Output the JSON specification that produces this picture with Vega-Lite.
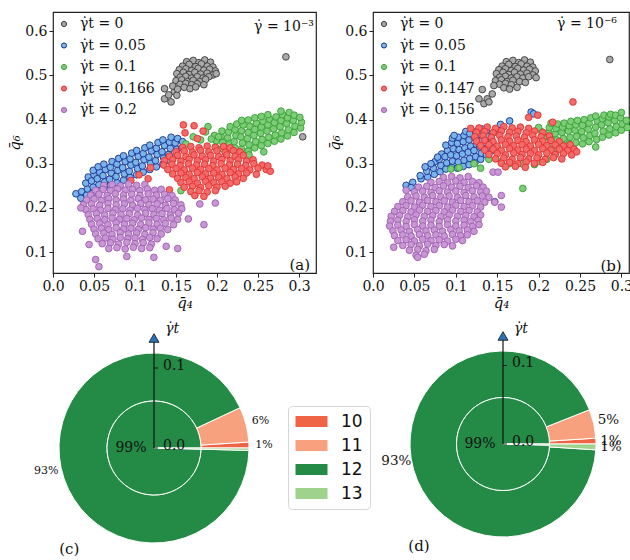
{
"$schema":"https://vega.github.io/schema/vega-lite/v6.json",
"background":"white",
"padding":{"left":7,"top":11,"right":0,"bottom":0},
"config":{"view":{"stroke":"#222","strokeWidth":1.2},"axis":{"labelFont":"DejaVu Serif","labelFontSize":14,"labelColor":"#111","tickColor":"#222","tickSize":4,"tickWidth":1,"domain":false,"grid":false,"titleFont":"DejaVu Serif","titleFontSize":15,"titleFontWeight":"normal","titleFontStyle":"italic","titleColor":"#111","labelPadding":2,"labelFlush":false,"labelOverlap":false},"text":{"font":"DejaVu Serif","color":"#111"}},
"datasets":{
"a":[
{"g":0,"x":0.163,"y":0.531},{"g":0,"x":0.171,"y":0.534},{"g":0,"x":0.178,"y":0.529},{"g":0,"x":0.185,"y":0.535},{"g":0,"x":0.192,"y":0.53},
{"g":0,"x":0.158,"y":0.521},{"g":0,"x":0.166,"y":0.525},{"g":0,"x":0.174,"y":0.52},{"g":0,"x":0.181,"y":0.526},{"g":0,"x":0.188,"y":0.521},{"g":0,"x":0.195,"y":0.519},
{"g":0,"x":0.154,"y":0.513},{"g":0,"x":0.162,"y":0.515},{"g":0,"x":0.169,"y":0.511},{"g":0,"x":0.177,"y":0.516},{"g":0,"x":0.184,"y":0.512},{"g":0,"x":0.191,"y":0.514},{"g":0,"x":0.198,"y":0.51},
{"g":0,"x":0.151,"y":0.504},{"g":0,"x":0.159,"y":0.507},{"g":0,"x":0.166,"y":0.502},{"g":0,"x":0.173,"y":0.507},{"g":0,"x":0.18,"y":0.503},{"g":0,"x":0.188,"y":0.505},{"g":0,"x":0.195,"y":0.501},
{"g":0,"x":0.155,"y":0.496},{"g":0,"x":0.162,"y":0.498},{"g":0,"x":0.169,"y":0.494},{"g":0,"x":0.176,"y":0.497},{"g":0,"x":0.183,"y":0.494},{"g":0,"x":0.19,"y":0.497},{"g":0,"x":0.199,"y":0.504},
{"g":0,"x":0.15,"y":0.488},{"g":0,"x":0.157,"y":0.49},{"g":0,"x":0.164,"y":0.486},{"g":0,"x":0.171,"y":0.489},{"g":0,"x":0.179,"y":0.486},{"g":0,"x":0.186,"y":0.491},
{"g":0,"x":0.155,"y":0.48},{"g":0,"x":0.162,"y":0.482},{"g":0,"x":0.169,"y":0.479},{"g":0,"x":0.176,"y":0.481},{"g":0,"x":0.184,"y":0.479},
{"g":0,"x":0.16,"y":0.473},{"g":0,"x":0.167,"y":0.47},{"g":0,"x":0.174,"y":0.474},
{"g":0,"x":0.136,"y":0.447},{"g":0,"x":0.144,"y":0.44},{"g":0,"x":0.148,"y":0.463},{"g":0,"x":0.136,"y":0.47},{"g":0,"x":0.151,"y":0.455},{"g":0,"x":0.141,"y":0.456},{"g":0,"x":0.146,"y":0.476},{"g":0,"x":0.152,"y":0.469},
{"g":0,"x":0.284,"y":0.542},{"g":0,"x":0.3045,"y":0.361},
{"g":1,"x":0.028,"y":0.232},{"g":1,"x":0.034,"y":0.222},{"g":1,"x":0.035,"y":0.237},
{"g":1,"x":0.041,"y":0.229},{"g":1,"x":0.042,"y":0.243},{"g":1,"x":0.04,"y":0.256},{"g":1,"x":0.043,"y":0.27},
{"g":1,"x":0.048,"y":0.233},{"g":1,"x":0.049,"y":0.247},{"g":1,"x":0.047,"y":0.261},{"g":1,"x":0.05,"y":0.275},{"g":1,"x":0.049,"y":0.285},
{"g":1,"x":0.055,"y":0.239},{"g":1,"x":0.056,"y":0.253},{"g":1,"x":0.054,"y":0.266},{"g":1,"x":0.057,"y":0.281},{"g":1,"x":0.055,"y":0.293},
{"g":1,"x":0.062,"y":0.246},{"g":1,"x":0.063,"y":0.259},{"g":1,"x":0.061,"y":0.273},{"g":1,"x":0.064,"y":0.287},{"g":1,"x":0.062,"y":0.299},
{"g":1,"x":0.07,"y":0.251},{"g":1,"x":0.069,"y":0.265},{"g":1,"x":0.071,"y":0.279},{"g":1,"x":0.07,"y":0.292},{"g":1,"x":0.072,"y":0.305},
{"g":1,"x":0.078,"y":0.257},{"g":1,"x":0.077,"y":0.271},{"g":1,"x":0.079,"y":0.285},{"g":1,"x":0.078,"y":0.299},{"g":1,"x":0.08,"y":0.312},
{"g":1,"x":0.086,"y":0.263},{"g":1,"x":0.087,"y":0.277},{"g":1,"x":0.085,"y":0.291},{"g":1,"x":0.088,"y":0.305},{"g":1,"x":0.086,"y":0.318},
{"g":1,"x":0.094,"y":0.269},{"g":1,"x":0.093,"y":0.283},{"g":1,"x":0.095,"y":0.297},{"g":1,"x":0.094,"y":0.311},{"g":1,"x":0.096,"y":0.324},
{"g":1,"x":0.102,"y":0.275},{"g":1,"x":0.103,"y":0.289},{"g":1,"x":0.101,"y":0.303},{"g":1,"x":0.104,"y":0.317},{"g":1,"x":0.102,"y":0.33},
{"g":1,"x":0.11,"y":0.281},{"g":1,"x":0.109,"y":0.295},{"g":1,"x":0.111,"y":0.309},{"g":1,"x":0.11,"y":0.323},{"g":1,"x":0.112,"y":0.336},
{"g":1,"x":0.118,"y":0.287},{"g":1,"x":0.119,"y":0.301},{"g":1,"x":0.117,"y":0.315},{"g":1,"x":0.12,"y":0.329},{"g":1,"x":0.118,"y":0.342},
{"g":1,"x":0.126,"y":0.293},{"g":1,"x":0.125,"y":0.307},{"g":1,"x":0.127,"y":0.321},{"g":1,"x":0.126,"y":0.335},{"g":1,"x":0.128,"y":0.348},
{"g":1,"x":0.134,"y":0.299},{"g":1,"x":0.135,"y":0.313},{"g":1,"x":0.133,"y":0.327},{"g":1,"x":0.136,"y":0.341},{"g":1,"x":0.134,"y":0.354},
{"g":1,"x":0.142,"y":0.307},{"g":1,"x":0.141,"y":0.321},{"g":1,"x":0.143,"y":0.335},{"g":1,"x":0.142,"y":0.349},{"g":1,"x":0.144,"y":0.36},
{"g":1,"x":0.15,"y":0.319},{"g":1,"x":0.151,"y":0.333},{"g":1,"x":0.149,"y":0.347},{"g":1,"x":0.152,"y":0.357},
{"g":1,"x":0.157,"y":0.336},{"g":1,"x":0.158,"y":0.35},
{"g":2,"x":0.198,"y":0.338},{"g":2,"x":0.199,"y":0.352},{"g":2,"x":0.197,"y":0.364},
{"g":2,"x":0.206,"y":0.334},{"g":2,"x":0.207,"y":0.348},{"g":2,"x":0.205,"y":0.362},{"g":2,"x":0.206,"y":0.374},
{"g":2,"x":0.214,"y":0.331},{"g":2,"x":0.215,"y":0.345},{"g":2,"x":0.213,"y":0.359},{"g":2,"x":0.214,"y":0.372},{"g":2,"x":0.216,"y":0.384},
{"g":2,"x":0.222,"y":0.336},{"g":2,"x":0.221,"y":0.35},{"g":2,"x":0.223,"y":0.364},{"g":2,"x":0.222,"y":0.377},{"g":2,"x":0.224,"y":0.39},
{"g":2,"x":0.23,"y":0.333},{"g":2,"x":0.231,"y":0.347},{"g":2,"x":0.229,"y":0.361},{"g":2,"x":0.23,"y":0.375},{"g":2,"x":0.232,"y":0.388},{"g":2,"x":0.23,"y":0.398},
{"g":2,"x":0.238,"y":0.329},{"g":2,"x":0.239,"y":0.343},{"g":2,"x":0.237,"y":0.357},{"g":2,"x":0.238,"y":0.371},{"g":2,"x":0.24,"y":0.385},{"g":2,"x":0.238,"y":0.399},
{"g":2,"x":0.246,"y":0.336},{"g":2,"x":0.247,"y":0.35},{"g":2,"x":0.245,"y":0.364},{"g":2,"x":0.246,"y":0.378},{"g":2,"x":0.248,"y":0.392},{"g":2,"x":0.246,"y":0.404},
{"g":2,"x":0.254,"y":0.341},{"g":2,"x":0.255,"y":0.355},{"g":2,"x":0.253,"y":0.369},{"g":2,"x":0.254,"y":0.383},{"g":2,"x":0.256,"y":0.396},{"g":2,"x":0.254,"y":0.407},
{"g":2,"x":0.262,"y":0.346},{"g":2,"x":0.263,"y":0.36},{"g":2,"x":0.261,"y":0.374},{"g":2,"x":0.262,"y":0.388},{"g":2,"x":0.264,"y":0.401},{"g":2,"x":0.262,"y":0.411},
{"g":2,"x":0.27,"y":0.351},{"g":2,"x":0.271,"y":0.365},{"g":2,"x":0.269,"y":0.379},{"g":2,"x":0.27,"y":0.393},{"g":2,"x":0.272,"y":0.406},
{"g":2,"x":0.278,"y":0.356},{"g":2,"x":0.279,"y":0.37},{"g":2,"x":0.277,"y":0.384},{"g":2,"x":0.278,"y":0.398},{"g":2,"x":0.28,"y":0.411},{"g":2,"x":0.278,"y":0.419},
{"g":2,"x":0.286,"y":0.363},{"g":2,"x":0.287,"y":0.377},{"g":2,"x":0.285,"y":0.391},{"g":2,"x":0.286,"y":0.404},{"g":2,"x":0.288,"y":0.416},
{"g":2,"x":0.294,"y":0.371},{"g":2,"x":0.295,"y":0.385},{"g":2,"x":0.293,"y":0.398},{"g":2,"x":0.294,"y":0.41},
{"g":2,"x":0.302,"y":0.381},{"g":2,"x":0.303,"y":0.394},{"g":2,"x":0.301,"y":0.405},
{"g":2,"x":0.189,"y":0.384},{"g":2,"x":0.171,"y":0.361},{"g":2,"x":0.18,"y":0.354},{"g":2,"x":0.193,"y":0.356},{"g":2,"x":0.202,"y":0.361},{"g":2,"x":0.156,"y":0.239},{"g":2,"x":0.239,"y":0.32},{"g":2,"x":0.257,"y":0.327},{"g":2,"x":0.162,"y":0.345},{"g":2,"x":0.186,"y":0.372},
{"g":3,"x":0.158,"y":0.337},{"g":3,"x":0.168,"y":0.339},{"g":3,"x":0.178,"y":0.336},{"g":3,"x":0.188,"y":0.34},{"g":3,"x":0.198,"y":0.337},{"g":3,"x":0.208,"y":0.339},{"g":3,"x":0.216,"y":0.336},
{"g":3,"x":0.15,"y":0.327},{"g":3,"x":0.16,"y":0.329},{"g":3,"x":0.17,"y":0.326},{"g":3,"x":0.18,"y":0.33},{"g":3,"x":0.19,"y":0.327},{"g":3,"x":0.2,"y":0.329},{"g":3,"x":0.21,"y":0.326},{"g":3,"x":0.22,"y":0.33},{"g":3,"x":0.228,"y":0.327},
{"g":3,"x":0.142,"y":0.317},{"g":3,"x":0.152,"y":0.319},{"g":3,"x":0.162,"y":0.316},{"g":3,"x":0.172,"y":0.32},{"g":3,"x":0.182,"y":0.317},{"g":3,"x":0.192,"y":0.319},{"g":3,"x":0.202,"y":0.316},{"g":3,"x":0.212,"y":0.32},{"g":3,"x":0.222,"y":0.317},{"g":3,"x":0.232,"y":0.319},
{"g":3,"x":0.136,"y":0.307},{"g":3,"x":0.146,"y":0.309},{"g":3,"x":0.156,"y":0.306},{"g":3,"x":0.166,"y":0.31},{"g":3,"x":0.176,"y":0.307},{"g":3,"x":0.186,"y":0.309},{"g":3,"x":0.196,"y":0.306},{"g":3,"x":0.206,"y":0.31},{"g":3,"x":0.216,"y":0.307},{"g":3,"x":0.226,"y":0.309},{"g":3,"x":0.236,"y":0.306},{"g":3,"x":0.244,"y":0.309},
{"g":3,"x":0.135,"y":0.297},{"g":3,"x":0.145,"y":0.299},{"g":3,"x":0.155,"y":0.296},{"g":3,"x":0.165,"y":0.3},{"g":3,"x":0.175,"y":0.297},{"g":3,"x":0.185,"y":0.299},{"g":3,"x":0.195,"y":0.296},{"g":3,"x":0.205,"y":0.3},{"g":3,"x":0.215,"y":0.297},{"g":3,"x":0.225,"y":0.299},{"g":3,"x":0.235,"y":0.296},{"g":3,"x":0.245,"y":0.3},{"g":3,"x":0.255,"y":0.297},
{"g":3,"x":0.14,"y":0.287},{"g":3,"x":0.15,"y":0.289},{"g":3,"x":0.16,"y":0.286},{"g":3,"x":0.17,"y":0.29},{"g":3,"x":0.18,"y":0.287},{"g":3,"x":0.19,"y":0.289},{"g":3,"x":0.2,"y":0.286},{"g":3,"x":0.21,"y":0.29},{"g":3,"x":0.22,"y":0.287},{"g":3,"x":0.23,"y":0.289},{"g":3,"x":0.24,"y":0.286},{"g":3,"x":0.25,"y":0.29},{"g":3,"x":0.26,"y":0.287},
{"g":3,"x":0.146,"y":0.277},{"g":3,"x":0.156,"y":0.279},{"g":3,"x":0.166,"y":0.276},{"g":3,"x":0.176,"y":0.28},{"g":3,"x":0.186,"y":0.277},{"g":3,"x":0.196,"y":0.279},{"g":3,"x":0.206,"y":0.276},{"g":3,"x":0.216,"y":0.28},{"g":3,"x":0.226,"y":0.277},{"g":3,"x":0.236,"y":0.279},{"g":3,"x":0.248,"y":0.276},
{"g":3,"x":0.152,"y":0.267},{"g":3,"x":0.162,"y":0.269},{"g":3,"x":0.172,"y":0.266},{"g":3,"x":0.182,"y":0.27},{"g":3,"x":0.192,"y":0.267},{"g":3,"x":0.202,"y":0.269},{"g":3,"x":0.212,"y":0.266},{"g":3,"x":0.222,"y":0.27},{"g":3,"x":0.232,"y":0.267},
{"g":3,"x":0.156,"y":0.257},{"g":3,"x":0.166,"y":0.259},{"g":3,"x":0.176,"y":0.256},{"g":3,"x":0.186,"y":0.26},{"g":3,"x":0.196,"y":0.257},{"g":3,"x":0.206,"y":0.259},{"g":3,"x":0.216,"y":0.256},{"g":3,"x":0.224,"y":0.259},
{"g":3,"x":0.16,"y":0.247},{"g":3,"x":0.17,"y":0.249},{"g":3,"x":0.18,"y":0.246},{"g":3,"x":0.19,"y":0.25},{"g":3,"x":0.2,"y":0.247},{"g":3,"x":0.21,"y":0.249},
{"g":3,"x":0.168,"y":0.237},{"g":3,"x":0.178,"y":0.239},{"g":3,"x":0.188,"y":0.236},{"g":3,"x":0.198,"y":0.239},
{"g":3,"x":0.159,"y":0.388},{"g":3,"x":0.172,"y":0.386},{"g":3,"x":0.183,"y":0.374},{"g":3,"x":0.161,"y":0.37},{"g":3,"x":0.176,"y":0.357},{"g":3,"x":0.119,"y":0.291},{"g":3,"x":0.105,"y":0.275},{"g":3,"x":0.095,"y":0.262},{"g":3,"x":0.142,"y":0.241},{"g":3,"x":0.184,"y":0.226},{"g":3,"x":0.173,"y":0.228},{"g":3,"x":0.116,"y":0.266},{"g":3,"x":0.265,"y":0.283},{"g":3,"x":0.262,"y":0.295},
{"g":4,"x":0.062,"y":0.251},{"g":4,"x":0.072,"y":0.253},{"g":4,"x":0.082,"y":0.25},{"g":4,"x":0.092,"y":0.254},{"g":4,"x":0.102,"y":0.251},{"g":4,"x":0.112,"y":0.253},
{"g":4,"x":0.052,"y":0.24},{"g":4,"x":0.061,"y":0.242},{"g":4,"x":0.07,"y":0.239},{"g":4,"x":0.079,"y":0.243},{"g":4,"x":0.088,"y":0.24},{"g":4,"x":0.097,"y":0.242},{"g":4,"x":0.106,"y":0.239},{"g":4,"x":0.115,"y":0.243},{"g":4,"x":0.124,"y":0.24},{"g":4,"x":0.132,"y":0.242},
{"g":4,"x":0.046,"y":0.229},{"g":4,"x":0.056,"y":0.231},{"g":4,"x":0.066,"y":0.228},{"g":4,"x":0.076,"y":0.232},{"g":4,"x":0.086,"y":0.229},{"g":4,"x":0.096,"y":0.231},{"g":4,"x":0.106,"y":0.228},{"g":4,"x":0.116,"y":0.232},{"g":4,"x":0.126,"y":0.229},{"g":4,"x":0.136,"y":0.231},{"g":4,"x":0.145,"y":0.228},
{"g":4,"x":0.041,"y":0.218},{"g":4,"x":0.05,"y":0.22},{"g":4,"x":0.059,"y":0.217},{"g":4,"x":0.068,"y":0.221},{"g":4,"x":0.077,"y":0.218},{"g":4,"x":0.086,"y":0.22},{"g":4,"x":0.095,"y":0.217},{"g":4,"x":0.104,"y":0.221},{"g":4,"x":0.113,"y":0.218},{"g":4,"x":0.122,"y":0.22},{"g":4,"x":0.131,"y":0.217},{"g":4,"x":0.14,"y":0.221},{"g":4,"x":0.149,"y":0.218},
{"g":4,"x":0.037,"y":0.207},{"g":4,"x":0.047,"y":0.209},{"g":4,"x":0.057,"y":0.206},{"g":4,"x":0.067,"y":0.21},{"g":4,"x":0.077,"y":0.207},{"g":4,"x":0.087,"y":0.209},{"g":4,"x":0.097,"y":0.206},{"g":4,"x":0.107,"y":0.21},{"g":4,"x":0.117,"y":0.207},{"g":4,"x":0.127,"y":0.209},{"g":4,"x":0.137,"y":0.206},{"g":4,"x":0.147,"y":0.21},{"g":4,"x":0.156,"y":0.207},
{"g":4,"x":0.04,"y":0.196},{"g":4,"x":0.049,"y":0.198},{"g":4,"x":0.058,"y":0.195},{"g":4,"x":0.067,"y":0.199},{"g":4,"x":0.076,"y":0.196},{"g":4,"x":0.085,"y":0.198},{"g":4,"x":0.094,"y":0.195},{"g":4,"x":0.103,"y":0.199},{"g":4,"x":0.112,"y":0.196},{"g":4,"x":0.121,"y":0.198},{"g":4,"x":0.13,"y":0.195},{"g":4,"x":0.139,"y":0.199},{"g":4,"x":0.148,"y":0.196},{"g":4,"x":0.157,"y":0.198},
{"g":4,"x":0.043,"y":0.185},{"g":4,"x":0.053,"y":0.187},{"g":4,"x":0.063,"y":0.184},{"g":4,"x":0.073,"y":0.188},{"g":4,"x":0.083,"y":0.185},{"g":4,"x":0.093,"y":0.187},{"g":4,"x":0.103,"y":0.184},{"g":4,"x":0.113,"y":0.188},{"g":4,"x":0.123,"y":0.185},{"g":4,"x":0.133,"y":0.187},{"g":4,"x":0.143,"y":0.184},{"g":4,"x":0.153,"y":0.188},
{"g":4,"x":0.045,"y":0.174},{"g":4,"x":0.054,"y":0.176},{"g":4,"x":0.063,"y":0.173},{"g":4,"x":0.072,"y":0.177},{"g":4,"x":0.081,"y":0.174},{"g":4,"x":0.09,"y":0.176},{"g":4,"x":0.099,"y":0.173},{"g":4,"x":0.108,"y":0.177},{"g":4,"x":0.117,"y":0.174},{"g":4,"x":0.126,"y":0.176},{"g":4,"x":0.135,"y":0.173},{"g":4,"x":0.144,"y":0.177},{"g":4,"x":0.152,"y":0.174},
{"g":4,"x":0.047,"y":0.163},{"g":4,"x":0.057,"y":0.165},{"g":4,"x":0.067,"y":0.162},{"g":4,"x":0.077,"y":0.166},{"g":4,"x":0.087,"y":0.163},{"g":4,"x":0.097,"y":0.165},{"g":4,"x":0.107,"y":0.162},{"g":4,"x":0.117,"y":0.166},{"g":4,"x":0.127,"y":0.163},{"g":4,"x":0.137,"y":0.165},{"g":4,"x":0.147,"y":0.162},
{"g":4,"x":0.05,"y":0.152},{"g":4,"x":0.059,"y":0.154},{"g":4,"x":0.068,"y":0.151},{"g":4,"x":0.077,"y":0.155},{"g":4,"x":0.086,"y":0.152},{"g":4,"x":0.095,"y":0.154},{"g":4,"x":0.104,"y":0.151},{"g":4,"x":0.113,"y":0.155},{"g":4,"x":0.122,"y":0.152},{"g":4,"x":0.131,"y":0.154},{"g":4,"x":0.14,"y":0.151},
{"g":4,"x":0.052,"y":0.141},{"g":4,"x":0.062,"y":0.143},{"g":4,"x":0.072,"y":0.14},{"g":4,"x":0.082,"y":0.144},{"g":4,"x":0.092,"y":0.141},{"g":4,"x":0.102,"y":0.143},{"g":4,"x":0.112,"y":0.14},{"g":4,"x":0.122,"y":0.144},{"g":4,"x":0.132,"y":0.141},
{"g":4,"x":0.055,"y":0.13},{"g":4,"x":0.064,"y":0.132},{"g":4,"x":0.073,"y":0.129},{"g":4,"x":0.082,"y":0.133},{"g":4,"x":0.091,"y":0.13},{"g":4,"x":0.1,"y":0.132},{"g":4,"x":0.109,"y":0.129},{"g":4,"x":0.118,"y":0.133},{"g":4,"x":0.127,"y":0.13},
{"g":4,"x":0.06,"y":0.119},{"g":4,"x":0.07,"y":0.121},{"g":4,"x":0.08,"y":0.118},{"g":4,"x":0.09,"y":0.122},{"g":4,"x":0.1,"y":0.119},{"g":4,"x":0.11,"y":0.121},{"g":4,"x":0.12,"y":0.118},
{"g":4,"x":0.068,"y":0.108},{"g":4,"x":0.078,"y":0.11},{"g":4,"x":0.088,"y":0.107},{"g":4,"x":0.098,"y":0.111},{"g":4,"x":0.108,"y":0.108},{"g":4,"x":0.118,"y":0.11},
{"g":4,"x":0.052,"y":0.083},{"g":4,"x":0.056,"y":0.067},{"g":4,"x":0.09,"y":0.09},{"g":4,"x":0.123,"y":0.088},{"g":4,"x":0.138,"y":0.113},{"g":4,"x":0.152,"y":0.108},{"g":4,"x":0.184,"y":0.162},{"g":4,"x":0.198,"y":0.211},{"g":4,"x":0.179,"y":0.209},{"g":4,"x":0.044,"y":0.117},{"g":4,"x":0.036,"y":0.147},{"g":4,"x":0.034,"y":0.2},{"g":4,"x":0.165,"y":0.175}
],
"b":[
{"g":0,"x":0.161,"y":0.531},{"g":0,"x":0.169,"y":0.534},{"g":0,"x":0.176,"y":0.529},{"g":0,"x":0.183,"y":0.535},{"g":0,"x":0.19,"y":0.53},
{"g":0,"x":0.156,"y":0.521},{"g":0,"x":0.164,"y":0.525},{"g":0,"x":0.172,"y":0.52},{"g":0,"x":0.179,"y":0.526},{"g":0,"x":0.186,"y":0.521},{"g":0,"x":0.193,"y":0.519},
{"g":0,"x":0.152,"y":0.513},{"g":0,"x":0.16,"y":0.515},{"g":0,"x":0.167,"y":0.511},{"g":0,"x":0.175,"y":0.516},{"g":0,"x":0.182,"y":0.512},{"g":0,"x":0.189,"y":0.514},{"g":0,"x":0.196,"y":0.51},
{"g":0,"x":0.149,"y":0.504},{"g":0,"x":0.157,"y":0.507},{"g":0,"x":0.164,"y":0.502},{"g":0,"x":0.171,"y":0.507},{"g":0,"x":0.178,"y":0.503},{"g":0,"x":0.186,"y":0.505},{"g":0,"x":0.193,"y":0.501},
{"g":0,"x":0.153,"y":0.496},{"g":0,"x":0.16,"y":0.498},{"g":0,"x":0.167,"y":0.494},{"g":0,"x":0.174,"y":0.497},{"g":0,"x":0.181,"y":0.494},{"g":0,"x":0.188,"y":0.497},{"g":0,"x":0.197,"y":0.495},
{"g":0,"x":0.148,"y":0.488},{"g":0,"x":0.155,"y":0.49},{"g":0,"x":0.162,"y":0.486},{"g":0,"x":0.169,"y":0.489},{"g":0,"x":0.177,"y":0.486},{"g":0,"x":0.184,"y":0.484},
{"g":0,"x":0.153,"y":0.48},{"g":0,"x":0.16,"y":0.482},{"g":0,"x":0.167,"y":0.479},{"g":0,"x":0.174,"y":0.473},{"g":0,"x":0.158,"y":0.472},{"g":0,"x":0.165,"y":0.469},
{"g":0,"x":0.128,"y":0.447},{"g":0,"x":0.134,"y":0.436},{"g":0,"x":0.132,"y":0.468},{"g":0,"x":0.144,"y":0.458},{"g":0,"x":0.138,"y":0.447},{"g":0,"x":0.146,"y":0.477},{"g":0,"x":0.14,"y":0.44},
{"g":0,"x":0.286,"y":0.536},
{"g":1,"x":0.04,"y":0.251},{"g":1,"x":0.048,"y":0.258},{"g":1,"x":0.046,"y":0.246},
{"g":1,"x":0.058,"y":0.266},{"g":1,"x":0.057,"y":0.273},
{"g":1,"x":0.066,"y":0.27},{"g":1,"x":0.065,"y":0.283},
{"g":1,"x":0.074,"y":0.276},{"g":1,"x":0.073,"y":0.29},{"g":1,"x":0.075,"y":0.305},
{"g":1,"x":0.081,"y":0.282},{"g":1,"x":0.082,"y":0.296},{"g":1,"x":0.08,"y":0.31},{"g":1,"x":0.083,"y":0.322},
{"g":1,"x":0.088,"y":0.288},{"g":1,"x":0.089,"y":0.302},{"g":1,"x":0.087,"y":0.316},{"g":1,"x":0.09,"y":0.33},{"g":1,"x":0.088,"y":0.342},
{"g":1,"x":0.095,"y":0.292},{"g":1,"x":0.096,"y":0.306},{"g":1,"x":0.094,"y":0.32},{"g":1,"x":0.097,"y":0.334},{"g":1,"x":0.095,"y":0.348},{"g":1,"x":0.096,"y":0.358},
{"g":1,"x":0.102,"y":0.29},{"g":1,"x":0.103,"y":0.304},{"g":1,"x":0.101,"y":0.318},{"g":1,"x":0.104,"y":0.332},{"g":1,"x":0.102,"y":0.346},{"g":1,"x":0.103,"y":0.36},
{"g":1,"x":0.109,"y":0.294},{"g":1,"x":0.11,"y":0.308},{"g":1,"x":0.108,"y":0.322},{"g":1,"x":0.111,"y":0.336},{"g":1,"x":0.109,"y":0.35},{"g":1,"x":0.11,"y":0.364},{"g":1,"x":0.112,"y":0.373},
{"g":1,"x":0.116,"y":0.298},{"g":1,"x":0.117,"y":0.312},{"g":1,"x":0.115,"y":0.326},{"g":1,"x":0.118,"y":0.34},{"g":1,"x":0.116,"y":0.354},{"g":1,"x":0.117,"y":0.368},
{"g":1,"x":0.123,"y":0.302},{"g":1,"x":0.124,"y":0.316},{"g":1,"x":0.122,"y":0.33},{"g":1,"x":0.125,"y":0.344},{"g":1,"x":0.123,"y":0.358},{"g":1,"x":0.124,"y":0.372},
{"g":1,"x":0.13,"y":0.31},{"g":1,"x":0.131,"y":0.324},{"g":1,"x":0.129,"y":0.338},{"g":1,"x":0.132,"y":0.352},{"g":1,"x":0.13,"y":0.366},{"g":1,"x":0.131,"y":0.379},
{"g":1,"x":0.137,"y":0.32},{"g":1,"x":0.138,"y":0.334},{"g":1,"x":0.136,"y":0.348},{"g":1,"x":0.139,"y":0.362},{"g":1,"x":0.137,"y":0.375},
{"g":1,"x":0.144,"y":0.33},{"g":1,"x":0.145,"y":0.344},{"g":1,"x":0.143,"y":0.358},{"g":1,"x":0.146,"y":0.371},
{"g":1,"x":0.154,"y":0.389},{"g":1,"x":0.165,"y":0.397},{"g":1,"x":0.191,"y":0.417},{"g":1,"x":0.194,"y":0.413},{"g":1,"x":0.07,"y":0.3},{"g":1,"x":0.063,"y":0.293},{"g":1,"x":0.078,"y":0.315},{"g":1,"x":0.147,"y":0.214},{"g":1,"x":0.098,"y":0.364},
{"g":2,"x":0.205,"y":0.345},{"g":2,"x":0.206,"y":0.358},{"g":2,"x":0.204,"y":0.372},
{"g":2,"x":0.213,"y":0.342},{"g":2,"x":0.214,"y":0.356},{"g":2,"x":0.212,"y":0.37},{"g":2,"x":0.213,"y":0.382},
{"g":2,"x":0.221,"y":0.34},{"g":2,"x":0.222,"y":0.354},{"g":2,"x":0.22,"y":0.368},{"g":2,"x":0.221,"y":0.38},{"g":2,"x":0.223,"y":0.39},
{"g":2,"x":0.229,"y":0.343},{"g":2,"x":0.23,"y":0.357},{"g":2,"x":0.228,"y":0.371},{"g":2,"x":0.229,"y":0.383},{"g":2,"x":0.231,"y":0.392},
{"g":2,"x":0.237,"y":0.346},{"g":2,"x":0.238,"y":0.36},{"g":2,"x":0.236,"y":0.374},{"g":2,"x":0.237,"y":0.386},{"g":2,"x":0.239,"y":0.396},
{"g":2,"x":0.245,"y":0.348},{"g":2,"x":0.246,"y":0.362},{"g":2,"x":0.244,"y":0.376},{"g":2,"x":0.245,"y":0.388},{"g":2,"x":0.247,"y":0.398},
{"g":2,"x":0.253,"y":0.345},{"g":2,"x":0.254,"y":0.359},{"g":2,"x":0.252,"y":0.373},{"g":2,"x":0.253,"y":0.387},{"g":2,"x":0.255,"y":0.4},
{"g":2,"x":0.261,"y":0.35},{"g":2,"x":0.262,"y":0.364},{"g":2,"x":0.26,"y":0.378},{"g":2,"x":0.261,"y":0.392},{"g":2,"x":0.263,"y":0.404},
{"g":2,"x":0.269,"y":0.338},{"g":2,"x":0.27,"y":0.355},{"g":2,"x":0.268,"y":0.369},{"g":2,"x":0.269,"y":0.383},{"g":2,"x":0.271,"y":0.397},{"g":2,"x":0.269,"y":0.408},
{"g":2,"x":0.277,"y":0.36},{"g":2,"x":0.278,"y":0.374},{"g":2,"x":0.276,"y":0.388},{"g":2,"x":0.277,"y":0.402},{"g":2,"x":0.279,"y":0.41},
{"g":2,"x":0.285,"y":0.365},{"g":2,"x":0.286,"y":0.379},{"g":2,"x":0.284,"y":0.393},{"g":2,"x":0.285,"y":0.406},{"g":2,"x":0.287,"y":0.412},
{"g":2,"x":0.293,"y":0.37},{"g":2,"x":0.294,"y":0.384},{"g":2,"x":0.292,"y":0.398},{"g":2,"x":0.293,"y":0.41},
{"g":2,"x":0.3,"y":0.376},{"g":2,"x":0.301,"y":0.39},{"g":2,"x":0.299,"y":0.404},{"g":2,"x":0.3,"y":0.416},
{"g":2,"x":0.307,"y":0.382},{"g":2,"x":0.306,"y":0.398},
{"g":2,"x":0.14,"y":0.31},{"g":2,"x":0.155,"y":0.305},{"g":2,"x":0.165,"y":0.3},{"g":2,"x":0.18,"y":0.3},{"g":2,"x":0.195,"y":0.298},{"g":2,"x":0.21,"y":0.31},{"g":2,"x":0.22,"y":0.322},{"g":2,"x":0.2,"y":0.305},
{"g":2,"x":0.181,"y":0.244},{"g":2,"x":0.104,"y":0.291},{"g":2,"x":0.094,"y":0.288},{"g":2,"x":0.122,"y":0.3},{"g":2,"x":0.13,"y":0.29},{"g":2,"x":0.215,"y":0.392},{"g":2,"x":0.2,"y":0.382},
{"g":3,"x":0.128,"y":0.381},{"g":3,"x":0.138,"y":0.383},{"g":3,"x":0.148,"y":0.38},{"g":3,"x":0.158,"y":0.384},{"g":3,"x":0.168,"y":0.381},{"g":3,"x":0.178,"y":0.383},{"g":3,"x":0.188,"y":0.38},
{"g":3,"x":0.125,"y":0.371},{"g":3,"x":0.135,"y":0.373},{"g":3,"x":0.145,"y":0.37},{"g":3,"x":0.155,"y":0.374},{"g":3,"x":0.165,"y":0.371},{"g":3,"x":0.175,"y":0.373},{"g":3,"x":0.185,"y":0.37},{"g":3,"x":0.195,"y":0.374},{"g":3,"x":0.205,"y":0.371},
{"g":3,"x":0.123,"y":0.361},{"g":3,"x":0.133,"y":0.363},{"g":3,"x":0.143,"y":0.36},{"g":3,"x":0.153,"y":0.364},{"g":3,"x":0.163,"y":0.361},{"g":3,"x":0.173,"y":0.363},{"g":3,"x":0.183,"y":0.36},{"g":3,"x":0.193,"y":0.364},{"g":3,"x":0.203,"y":0.361},{"g":3,"x":0.213,"y":0.363},
{"g":3,"x":0.125,"y":0.351},{"g":3,"x":0.135,"y":0.353},{"g":3,"x":0.145,"y":0.35},{"g":3,"x":0.155,"y":0.354},{"g":3,"x":0.165,"y":0.351},{"g":3,"x":0.175,"y":0.353},{"g":3,"x":0.185,"y":0.35},{"g":3,"x":0.195,"y":0.354},{"g":3,"x":0.205,"y":0.351},{"g":3,"x":0.215,"y":0.353},{"g":3,"x":0.225,"y":0.35},
{"g":3,"x":0.13,"y":0.341},{"g":3,"x":0.14,"y":0.343},{"g":3,"x":0.15,"y":0.34},{"g":3,"x":0.16,"y":0.344},{"g":3,"x":0.17,"y":0.341},{"g":3,"x":0.18,"y":0.343},{"g":3,"x":0.19,"y":0.34},{"g":3,"x":0.2,"y":0.344},{"g":3,"x":0.21,"y":0.341},{"g":3,"x":0.22,"y":0.343},{"g":3,"x":0.23,"y":0.34},{"g":3,"x":0.238,"y":0.343},
{"g":3,"x":0.135,"y":0.331},{"g":3,"x":0.145,"y":0.333},{"g":3,"x":0.155,"y":0.33},{"g":3,"x":0.165,"y":0.334},{"g":3,"x":0.175,"y":0.331},{"g":3,"x":0.185,"y":0.333},{"g":3,"x":0.195,"y":0.33},{"g":3,"x":0.205,"y":0.334},{"g":3,"x":0.215,"y":0.331},{"g":3,"x":0.225,"y":0.333},{"g":3,"x":0.235,"y":0.33},{"g":3,"x":0.243,"y":0.333},
{"g":3,"x":0.14,"y":0.321},{"g":3,"x":0.15,"y":0.323},{"g":3,"x":0.16,"y":0.32},{"g":3,"x":0.17,"y":0.324},{"g":3,"x":0.18,"y":0.321},{"g":3,"x":0.19,"y":0.323},{"g":3,"x":0.2,"y":0.32},{"g":3,"x":0.21,"y":0.324},{"g":3,"x":0.22,"y":0.321},{"g":3,"x":0.23,"y":0.323},{"g":3,"x":0.24,"y":0.32},
{"g":3,"x":0.148,"y":0.311},{"g":3,"x":0.158,"y":0.313},{"g":3,"x":0.168,"y":0.31},{"g":3,"x":0.178,"y":0.314},{"g":3,"x":0.188,"y":0.311},{"g":3,"x":0.198,"y":0.313},{"g":3,"x":0.208,"y":0.31},{"g":3,"x":0.218,"y":0.314},{"g":3,"x":0.228,"y":0.311},
{"g":3,"x":0.155,"y":0.301},{"g":3,"x":0.165,"y":0.303},{"g":3,"x":0.175,"y":0.3},{"g":3,"x":0.185,"y":0.304},{"g":3,"x":0.195,"y":0.301},{"g":3,"x":0.205,"y":0.303},
{"g":3,"x":0.16,"y":0.293},{"g":3,"x":0.172,"y":0.294},{"g":3,"x":0.184,"y":0.292},
{"g":3,"x":0.2415,"y":0.44},{"g":3,"x":0.188,"y":0.405},{"g":3,"x":0.199,"y":0.41},{"g":3,"x":0.217,"y":0.394},{"g":3,"x":0.118,"y":0.38},{"g":3,"x":0.246,"y":0.327},
{"g":4,"x":0.085,"y":0.269},{"g":4,"x":0.095,"y":0.271},{"g":4,"x":0.105,"y":0.268},{"g":4,"x":0.115,"y":0.271},
{"g":4,"x":0.07,"y":0.258},{"g":4,"x":0.08,"y":0.26},{"g":4,"x":0.09,"y":0.257},{"g":4,"x":0.1,"y":0.261},{"g":4,"x":0.11,"y":0.258},{"g":4,"x":0.12,"y":0.26},{"g":4,"x":0.128,"y":0.257},
{"g":4,"x":0.055,"y":0.247},{"g":4,"x":0.065,"y":0.249},{"g":4,"x":0.075,"y":0.246},{"g":4,"x":0.085,"y":0.25},{"g":4,"x":0.095,"y":0.247},{"g":4,"x":0.105,"y":0.249},{"g":4,"x":0.115,"y":0.246},{"g":4,"x":0.125,"y":0.25},{"g":4,"x":0.133,"y":0.247},
{"g":4,"x":0.05,"y":0.236},{"g":4,"x":0.06,"y":0.238},{"g":4,"x":0.07,"y":0.235},{"g":4,"x":0.08,"y":0.239},{"g":4,"x":0.09,"y":0.236},{"g":4,"x":0.1,"y":0.238},{"g":4,"x":0.11,"y":0.235},{"g":4,"x":0.12,"y":0.239},{"g":4,"x":0.13,"y":0.236},{"g":4,"x":0.137,"y":0.238},
{"g":4,"x":0.042,"y":0.225},{"g":4,"x":0.052,"y":0.227},{"g":4,"x":0.062,"y":0.224},{"g":4,"x":0.072,"y":0.228},{"g":4,"x":0.082,"y":0.225},{"g":4,"x":0.092,"y":0.227},{"g":4,"x":0.102,"y":0.224},{"g":4,"x":0.112,"y":0.228},{"g":4,"x":0.122,"y":0.225},{"g":4,"x":0.132,"y":0.227},{"g":4,"x":0.14,"y":0.224},
{"g":4,"x":0.036,"y":0.214},{"g":4,"x":0.046,"y":0.216},{"g":4,"x":0.056,"y":0.213},{"g":4,"x":0.066,"y":0.217},{"g":4,"x":0.076,"y":0.214},{"g":4,"x":0.086,"y":0.216},{"g":4,"x":0.096,"y":0.213},{"g":4,"x":0.106,"y":0.217},{"g":4,"x":0.116,"y":0.214},{"g":4,"x":0.126,"y":0.216},{"g":4,"x":0.135,"y":0.213},
{"g":4,"x":0.03,"y":0.203},{"g":4,"x":0.04,"y":0.205},{"g":4,"x":0.05,"y":0.202},{"g":4,"x":0.06,"y":0.206},{"g":4,"x":0.07,"y":0.203},{"g":4,"x":0.08,"y":0.205},{"g":4,"x":0.09,"y":0.202},{"g":4,"x":0.1,"y":0.206},{"g":4,"x":0.11,"y":0.203},{"g":4,"x":0.12,"y":0.205},{"g":4,"x":0.13,"y":0.202},
{"g":4,"x":0.026,"y":0.192},{"g":4,"x":0.036,"y":0.194},{"g":4,"x":0.046,"y":0.191},{"g":4,"x":0.056,"y":0.195},{"g":4,"x":0.066,"y":0.192},{"g":4,"x":0.076,"y":0.194},{"g":4,"x":0.086,"y":0.191},{"g":4,"x":0.096,"y":0.195},{"g":4,"x":0.106,"y":0.192},{"g":4,"x":0.116,"y":0.194},{"g":4,"x":0.126,"y":0.191},
{"g":4,"x":0.022,"y":0.181},{"g":4,"x":0.032,"y":0.183},{"g":4,"x":0.042,"y":0.18},{"g":4,"x":0.052,"y":0.184},{"g":4,"x":0.062,"y":0.181},{"g":4,"x":0.072,"y":0.183},{"g":4,"x":0.082,"y":0.18},{"g":4,"x":0.092,"y":0.184},{"g":4,"x":0.102,"y":0.181},{"g":4,"x":0.112,"y":0.183},{"g":4,"x":0.122,"y":0.18},{"g":4,"x":0.13,"y":0.184},
{"g":4,"x":0.021,"y":0.17},{"g":4,"x":0.03,"y":0.172},{"g":4,"x":0.04,"y":0.169},{"g":4,"x":0.05,"y":0.173},{"g":4,"x":0.06,"y":0.17},{"g":4,"x":0.07,"y":0.172},{"g":4,"x":0.08,"y":0.169},{"g":4,"x":0.09,"y":0.173},{"g":4,"x":0.1,"y":0.17},{"g":4,"x":0.11,"y":0.172},{"g":4,"x":0.118,"y":0.169},{"g":4,"x":0.127,"y":0.172},
{"g":4,"x":0.02,"y":0.159},{"g":4,"x":0.03,"y":0.161},{"g":4,"x":0.04,"y":0.158},{"g":4,"x":0.05,"y":0.162},{"g":4,"x":0.06,"y":0.159},{"g":4,"x":0.07,"y":0.161},{"g":4,"x":0.08,"y":0.158},{"g":4,"x":0.09,"y":0.162},{"g":4,"x":0.1,"y":0.159},{"g":4,"x":0.11,"y":0.161},{"g":4,"x":0.12,"y":0.158},{"g":4,"x":0.128,"y":0.162},
{"g":4,"x":0.024,"y":0.148},{"g":4,"x":0.034,"y":0.15},{"g":4,"x":0.044,"y":0.147},{"g":4,"x":0.054,"y":0.151},{"g":4,"x":0.064,"y":0.148},{"g":4,"x":0.074,"y":0.15},{"g":4,"x":0.084,"y":0.147},{"g":4,"x":0.094,"y":0.151},{"g":4,"x":0.104,"y":0.148},{"g":4,"x":0.114,"y":0.15},{"g":4,"x":0.122,"y":0.147},
{"g":4,"x":0.026,"y":0.137},{"g":4,"x":0.036,"y":0.139},{"g":4,"x":0.046,"y":0.136},{"g":4,"x":0.056,"y":0.14},{"g":4,"x":0.066,"y":0.137},{"g":4,"x":0.076,"y":0.139},{"g":4,"x":0.086,"y":0.136},{"g":4,"x":0.096,"y":0.14},{"g":4,"x":0.106,"y":0.137},{"g":4,"x":0.114,"y":0.139},
{"g":4,"x":0.03,"y":0.126},{"g":4,"x":0.04,"y":0.128},{"g":4,"x":0.05,"y":0.125},{"g":4,"x":0.06,"y":0.129},{"g":4,"x":0.07,"y":0.126},{"g":4,"x":0.08,"y":0.128},{"g":4,"x":0.09,"y":0.125},{"g":4,"x":0.1,"y":0.129},{"g":4,"x":0.108,"y":0.126},
{"g":4,"x":0.036,"y":0.115},{"g":4,"x":0.046,"y":0.117},{"g":4,"x":0.056,"y":0.114},{"g":4,"x":0.066,"y":0.118},{"g":4,"x":0.076,"y":0.115},{"g":4,"x":0.086,"y":0.117},{"g":4,"x":0.096,"y":0.114},
{"g":4,"x":0.044,"y":0.104},{"g":4,"x":0.054,"y":0.106},{"g":4,"x":0.064,"y":0.103},{"g":4,"x":0.074,"y":0.106},
{"g":4,"x":0.052,"y":0.093},{"g":4,"x":0.062,"y":0.095},
{"g":4,"x":0.147,"y":0.213},{"g":4,"x":0.155,"y":0.228},{"g":4,"x":0.155,"y":0.202},{"g":4,"x":0.145,"y":0.281},{"g":4,"x":0.151,"y":0.281},{"g":4,"x":0.025,"y":0.111},{"g":4,"x":0.04,"y":0.24},{"g":4,"x":0.054,"y":0.088}
],
"pie":[
{"p":"c","ring":"outer","cat":"10","v":1,"lab":"1%"},{"p":"c","ring":"outer","cat":"11","v":6,"lab":"6%"},{"p":"c","ring":"outer","cat":"12","v":93,"lab":"93%"},{"p":"c","ring":"outer","cat":"13","v":0.4,"lab":""},
{"p":"c","ring":"inner","cat":"12","v":99,"lab":"99%"},{"p":"c","ring":"inner","cat":"13","v":0.4,"lab":""},
{"p":"d","ring":"outer","cat":"10","v":1,"lab":"1%"},{"p":"d","ring":"outer","cat":"11","v":5,"lab":"5%"},{"p":"d","ring":"outer","cat":"12","v":93,"lab":"93%"},{"p":"d","ring":"outer","cat":"13","v":1,"lab":"1%"},
{"p":"d","ring":"inner","cat":"12","v":99,"lab":"99%"},{"p":"d","ring":"inner","cat":"13","v":0.4,"lab":""}
],
"tk":[{"t":0,"s":"0.0"},{"t":0.1,"s":"0.1"}]
},
"columns":2,
"spacing":{"row":65,"column":57},
"bounds":"flush",
"resolve":{"scale":{"x":"independent","y":"independent","fill":"independent","stroke":"independent","theta":"independent","color":"independent"},"legend":{"fill":"independent","stroke":"independent","color":"independent"}},
"concat":[
{"width":263,"height":261,
"layer":[
{"data":{"name":"a"},
"mark":{"type":"circle","size":45,"strokeWidth":0.9,"opacity":1},
"encoding":{
"x":{"field":"x","type":"quantitative","scale":{"domain":[0,0.3207],"nice":false,"zero":false},"axis":{"values":[0,0.05,0.1,0.15,0.2,0.25,0.3],"labelExpr":"datum.value == 0 ? '0.0' : format(datum.value, '~g')","title":"q̄₄","titlePadding":2}},
"y":{"field":"y","type":"quantitative","scale":{"domain":[0.0526,0.6436],"nice":false,"zero":false},"axis":{"values":[0.1,0.2,0.3,0.4,0.5,0.6],"format":".1f","title":"q̄₆","titlePadding":2}},
"fill":{"field":"g","type":"nominal","scale":{"domain":[0,1,2,3,4],"range":["#a9a9a9","#78b4ea","#7fcc78","#f26a6a","#c995d4"]},"legend":{"orient":"none","legendX":4,"legendY":5,"title":null,"labelExpr":"['γ̇t = 0','γ̇t = 0.05','γ̇t = 0.1','γ̇t = 0.166','γ̇t = 0.2'][datum.value]","symbolType":"circle","symbolSize":26,"symbolStrokeWidth":1,"labelFont":"DejaVu Serif","labelFontSize":14,"labelColor":"#111","rowPadding":7.5,"labelOffset":9,"padding":0}},
"stroke":{"field":"g","type":"nominal","scale":{"domain":[0,1,2,3,4],"range":["#3c3c3c","#1c2f8f","#33a033","#e2302c","#9c5fb0"]},"legend":{"orient":"none","legendX":4,"legendY":5,"title":null,"labelExpr":"['γ̇t = 0','γ̇t = 0.05','γ̇t = 0.1','γ̇t = 0.166','γ̇t = 0.2'][datum.value]","symbolType":"circle","symbolSize":26,"symbolStrokeWidth":1,"labelFont":"DejaVu Serif","labelFontSize":14,"labelColor":"#111","rowPadding":7.5,"labelOffset":9,"padding":0}}
}},
{"data":{"values":[{}]},"mark":{"type":"text","fontSize":14,"align":"center","baseline":"middle"},"encoding":{"x":{"datum":0.2817},"y":{"datum":0.6095},"text":{"value":"γ̇ = 10⁻³"}}},
{"data":{"values":[{}]},"mark":{"type":"text","fontSize":15,"align":"center","baseline":"middle"},"encoding":{"x":{"datum":0.301},"y":{"datum":0.0717},"text":{"value":"(a)"}}}
]},
{"width":256,"height":261,
"layer":[
{"data":{"name":"b"},
"mark":{"type":"circle","size":45,"strokeWidth":0.9,"opacity":1},
"encoding":{
"x":{"field":"x","type":"quantitative","scale":{"domain":[0,0.3092],"nice":false,"zero":false},"axis":{"values":[0,0.05,0.1,0.15,0.2,0.25,0.3],"labelExpr":"datum.value == 0 ? '0.0' : format(datum.value, '~g')","title":"q̄₄","titlePadding":2}},
"y":{"field":"y","type":"quantitative","scale":{"domain":[0.0526,0.6436],"nice":false,"zero":false},"axis":{"values":[0.1,0.2,0.3,0.4,0.5,0.6],"format":".1f","title":"q̄₆","titlePadding":2}},
"fill":{"field":"g","type":"nominal","scale":{"domain":[0,1,2,3,4],"range":["#a9a9a9","#78b4ea","#7fcc78","#f26a6a","#c995d4"]},"legend":{"orient":"none","legendX":4,"legendY":5,"title":null,"labelExpr":"['γ̇t = 0','γ̇t = 0.05','γ̇t = 0.1','γ̇t = 0.147','γ̇t = 0.156'][datum.value]","symbolType":"circle","symbolSize":26,"symbolStrokeWidth":1,"labelFont":"DejaVu Serif","labelFontSize":14,"labelColor":"#111","rowPadding":7.5,"labelOffset":9,"padding":0}},
"stroke":{"field":"g","type":"nominal","scale":{"domain":[0,1,2,3,4],"range":["#3c3c3c","#1c2f8f","#33a033","#e2302c","#9c5fb0"]},"legend":{"orient":"none","legendX":4,"legendY":5,"title":null,"labelExpr":"['γ̇t = 0','γ̇t = 0.05','γ̇t = 0.1','γ̇t = 0.147','γ̇t = 0.156'][datum.value]","symbolType":"circle","symbolSize":26,"symbolStrokeWidth":1,"labelFont":"DejaVu Serif","labelFontSize":14,"labelColor":"#111","rowPadding":7.5,"labelOffset":9,"padding":0}}
}},
{"data":{"values":[{}]},"mark":{"type":"text","fontSize":14,"align":"center","baseline":"middle"},"encoding":{"x":{"datum":0.2585},"y":{"datum":0.617},"text":{"value":"γ̇ = 10⁻⁶"}}},
{"data":{"values":[{}]},"mark":{"type":"text","fontSize":15,"align":"center","baseline":"middle"},"encoding":{"x":{"datum":0.2875},"y":{"datum":0.0694},"text":{"value":"(b)"}}}
]},
{"width":202,"height":220,"view":{"stroke":null},
"layer":[
{"data":{"name":"pie"},"transform":[{"filter":"datum.p == 'c' && datum.ring == 'outer'"}],
"mark":{"type":"arc","outerRadius":95,"innerRadius":47,"stroke":"white","strokeWidth":1},
"encoding":{"theta":{"field":"v","type":"quantitative","stack":"normalize","scale":{"range":[1.5708,-4.7124]}},
"order":{"field":"cat","type":"ordinal"},
"color":{"field":"cat","type":"nominal","scale":{"domain":["10","11","12","13"],"range":["#ef6445","#f8a17f","#238b45","#9fd38d"]},
"legend":{"orient":"none","legendX":235,"legendY":68,"title":null,"symbolType":"M-2,-0.7H2V0.7H-2Z","symbolSize":256,"symbolStrokeWidth":0,"symbolOffset":8,"labelFont":"DejaVu Sans","labelFontSize":17,"labelColor":"#111","labelOffset":21,"rowPadding":6,"padding":7,"strokeColor":"#d6d6d6","fillColor":"white","cornerRadius":4}}}},
{"data":{"name":"pie"},"transform":[{"filter":"datum.p == 'c' && datum.ring == 'inner'"}],
"mark":{"type":"arc","outerRadius":47,"stroke":"white","strokeWidth":1},
"encoding":{"theta":{"field":"v","type":"quantitative","stack":"normalize"},"order":{"field":"cat","type":"ordinal"},"color":{"field":"cat","type":"nominal"}}},
{"data":{"name":"pie"},"transform":[{"filter":"datum.p == 'c' && datum.ring == 'outer'"}],
"mark":{"type":"text","radius":110,"fontSize":11,"align":"center","baseline":"middle"},
"encoding":{"theta":{"field":"v","type":"quantitative","stack":"normalize"},"order":{"field":"cat","type":"ordinal"},"text":{"field":"lab"}}},
{"data":{"name":"pie"},"transform":[{"filter":"datum.p == 'c' && datum.ring == 'inner'"}],
"mark":{"type":"text","radius":23,"fontSize":14,"align":"center","baseline":"middle"},
"encoding":{"theta":{"field":"v","type":"quantitative","stack":"normalize"},"order":{"field":"cat","type":"ordinal"},"text":{"field":"lab"}}},
{"data":{"values":[{}]},"mark":{"type":"rule","color":"#111","strokeWidth":1.2},
"encoding":{"x":{"datum":0,"type":"quantitative","scale":{"domain":[-0.12625,0.12625],"nice":false,"zero":false},"axis":null},"y":{"datum":0,"type":"quantitative","scale":{"domain":[-0.1375,0.1375],"nice":false,"zero":false},"axis":null},"y2":{"datum":0.1325}}},
{"data":{"values":[{}]},"mark":{"type":"point","shape":"triangle-up","filled":true,"fill":"#2a72b5","stroke":"#111","strokeWidth":0.8,"size":100,"opacity":1},
"encoding":{"x":{"datum":0},"y":{"datum":0.1375}}},
{"data":{"name":"tk"},"mark":{"type":"rule","color":"#111","strokeWidth":1},
"encoding":{"x":{"datum":0},"x2":{"datum":0.005},"y":{"field":"t","type":"quantitative"}}},
{"data":{"name":"tk"},"mark":{"type":"text","fontSize":14,"align":"left","baseline":"middle","dx":9,"dy":-2},
"encoding":{"x":{"datum":0},"y":{"field":"t","type":"quantitative"},"text":{"field":"s"}}},
{"data":{"values":[{}]},"mark":{"type":"text","fontSize":14,"fontStyle":"italic","align":"left","baseline":"middle"},
"encoding":{"x":{"datum":0.014},"y":{"datum":0.149},"text":{"value":"γ̇t"}}},
{"data":{"values":[{}]},"mark":{"type":"text","fontSize":15,"align":"center","baseline":"middle"},
"encoding":{"x":{"datum":-0.106},"y":{"datum":-0.126},"text":{"value":"(c)"}}}
]},
{"width":260,"height":212,"view":{"stroke":null},
"layer":[
{"data":{"name":"pie"},"transform":[{"filter":"datum.p == 'd' && datum.ring == 'outer'"}],
"mark":{"type":"arc","outerRadius":93,"innerRadius":46.5,"stroke":"white","strokeWidth":1},
"encoding":{"theta":{"field":"v","type":"quantitative","stack":"normalize","scale":{"range":[1.5708,-4.7124]}},
"order":{"field":"cat","type":"ordinal"},
"color":{"field":"cat","type":"nominal","scale":{"domain":["10","11","12","13"],"range":["#ef6445","#f8a17f","#238b45","#9fd38d"]},"legend":null}}},
{"data":{"name":"pie"},"transform":[{"filter":"datum.p == 'd' && datum.ring == 'inner'"}],
"mark":{"type":"arc","outerRadius":46.5,"stroke":"white","strokeWidth":1},
"encoding":{"theta":{"field":"v","type":"quantitative","stack":"normalize"},"order":{"field":"cat","type":"ordinal"},"color":{"field":"cat","type":"nominal","legend":null}}},
{"data":{"name":"pie"},"transform":[{"filter":"datum.p == 'd' && datum.ring == 'outer'"}],
"mark":{"type":"text","radius":108,"fontSize":13.5,"align":"center","baseline":"middle"},
"encoding":{"theta":{"field":"v","type":"quantitative","stack":"normalize"},"order":{"field":"cat","type":"ordinal"},"text":{"field":"lab"}}},
{"data":{"name":"pie"},"transform":[{"filter":"datum.p == 'd' && datum.ring == 'inner'"}],
"mark":{"type":"text","radius":23,"fontSize":14,"align":"center","baseline":"middle"},
"encoding":{"theta":{"field":"v","type":"quantitative","stack":"normalize"},"order":{"field":"cat","type":"ordinal"},"text":{"field":"lab"}}},
{"data":{"values":[{}]},"mark":{"type":"rule","color":"#111","strokeWidth":1.2},
"encoding":{"x":{"datum":0,"type":"quantitative","scale":{"domain":[-0.1656,0.1656],"nice":false,"zero":false},"axis":null},"y":{"datum":0,"type":"quantitative","scale":{"domain":[-0.135,0.135],"nice":false,"zero":false},"axis":null},"y2":{"datum":0.1325}}},
{"data":{"values":[{}]},"mark":{"type":"point","shape":"triangle-up","filled":true,"fill":"#2a72b5","stroke":"#111","strokeWidth":0.8,"size":100,"opacity":1},
"encoding":{"x":{"datum":0},"y":{"datum":0.1376}}},
{"data":{"name":"tk"},"mark":{"type":"rule","color":"#111","strokeWidth":1},
"encoding":{"x":{"datum":0},"x2":{"datum":0.005},"y":{"field":"t","type":"quantitative"}}},
{"data":{"name":"tk"},"mark":{"type":"text","fontSize":14,"align":"left","baseline":"middle","dx":9,"dy":-2},
"encoding":{"x":{"datum":0},"y":{"field":"t","type":"quantitative"},"text":{"field":"s"}}},
{"data":{"values":[{}]},"mark":{"type":"text","fontSize":14,"fontStyle":"italic","align":"left","baseline":"middle"},
"encoding":{"x":{"datum":0.014},"y":{"datum":0.1465},"text":{"value":"γ̇t"}}},
{"data":{"values":[{}]},"mark":{"type":"text","fontSize":15,"align":"center","baseline":"middle"},
"encoding":{"x":{"datum":-0.107},"y":{"datum":-0.13},"text":{"value":"(d)"}}}
]}
]
}
